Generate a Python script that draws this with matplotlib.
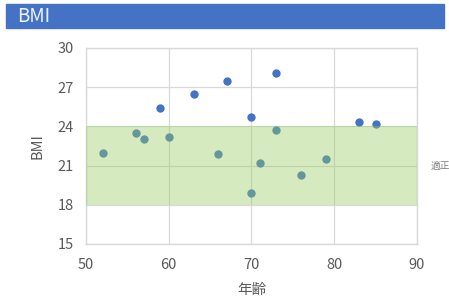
import matplotlib.pyplot as plt
from matplotlib.patches import Rectangle
import matplotlib.transforms as mtransforms

plt.rcParams['font.family'] = ['Noto Sans CJK JP', 'DejaVu Sans']

# 年齢 と BMI
age = [52, 56, 57, 59, 60, 63, 66, 67, 70, 70, 71, 73, 73, 76, 79, 83, 85]
bmi = [22.0, 23.5, 23.0, 25.4, 23.2, 26.5, 21.9, 27.5, 24.7, 18.9, 21.2, 28.1, 23.7, 20.3, 21.5, 24.3, 24.2]

# 適正範囲
band_low, band_high = 18, 24
x_ticks = [50, 60, 70, 80, 90]
y_ticks = [15, 18, 21, 24, 27, 30]

fig = plt.figure(figsize=(4.49, 2.97), dpi=100)
ax = fig.add_axes([0.1915, 0.1785, 0.7372, 0.66])

ax.scatter(age, bmi, s=36, color='#4472C4', zorder=2, linewidths=0)
ax.axhspan(band_low, band_high, color='#96cd5f', alpha=0.4, zorder=3, linewidth=0)

ax.set_xlim(50, 90)
ax.set_ylim(15, 30)
ax.set_xticks(x_ticks)
ax.set_yticks(y_ticks)
ax.grid(True, color='#d9d9d9', linewidth=0.9, zorder=0)
ax.set_axisbelow(True)
for s in ax.spines.values():
    s.set_color('#d9d9d9')
    s.set_linewidth(1.0)
ax.tick_params(length=0, labelsize=10.5, labelcolor='#595959', pad=9)
ax.tick_params(axis='x', pad=10)
ax.set_xlabel('年齢', fontsize=10.5, color='#595959', labelpad=8)
ax.set_ylabel('BMI', fontsize=10.5, color='#595959', labelpad=9)

trans = mtransforms.blended_transform_factory(ax.transAxes, ax.transData)
ax.text(1.04, 21, '適正', transform=trans, fontsize=7, color='#808080',
        va='center', ha='left', clip_on=False)

# タイトルバー
fig.patches.append(Rectangle((6 / 449, 0.9047), 438 / 449, 0.0808,
                             transform=fig.transFigure, color='#4472C4'))
fig.text(17 / 449, 0.945, 'BMI', fontsize=13.5, color='#eef2fa', va='center', ha='left')

plt.savefig('out.png', dpi=100)
